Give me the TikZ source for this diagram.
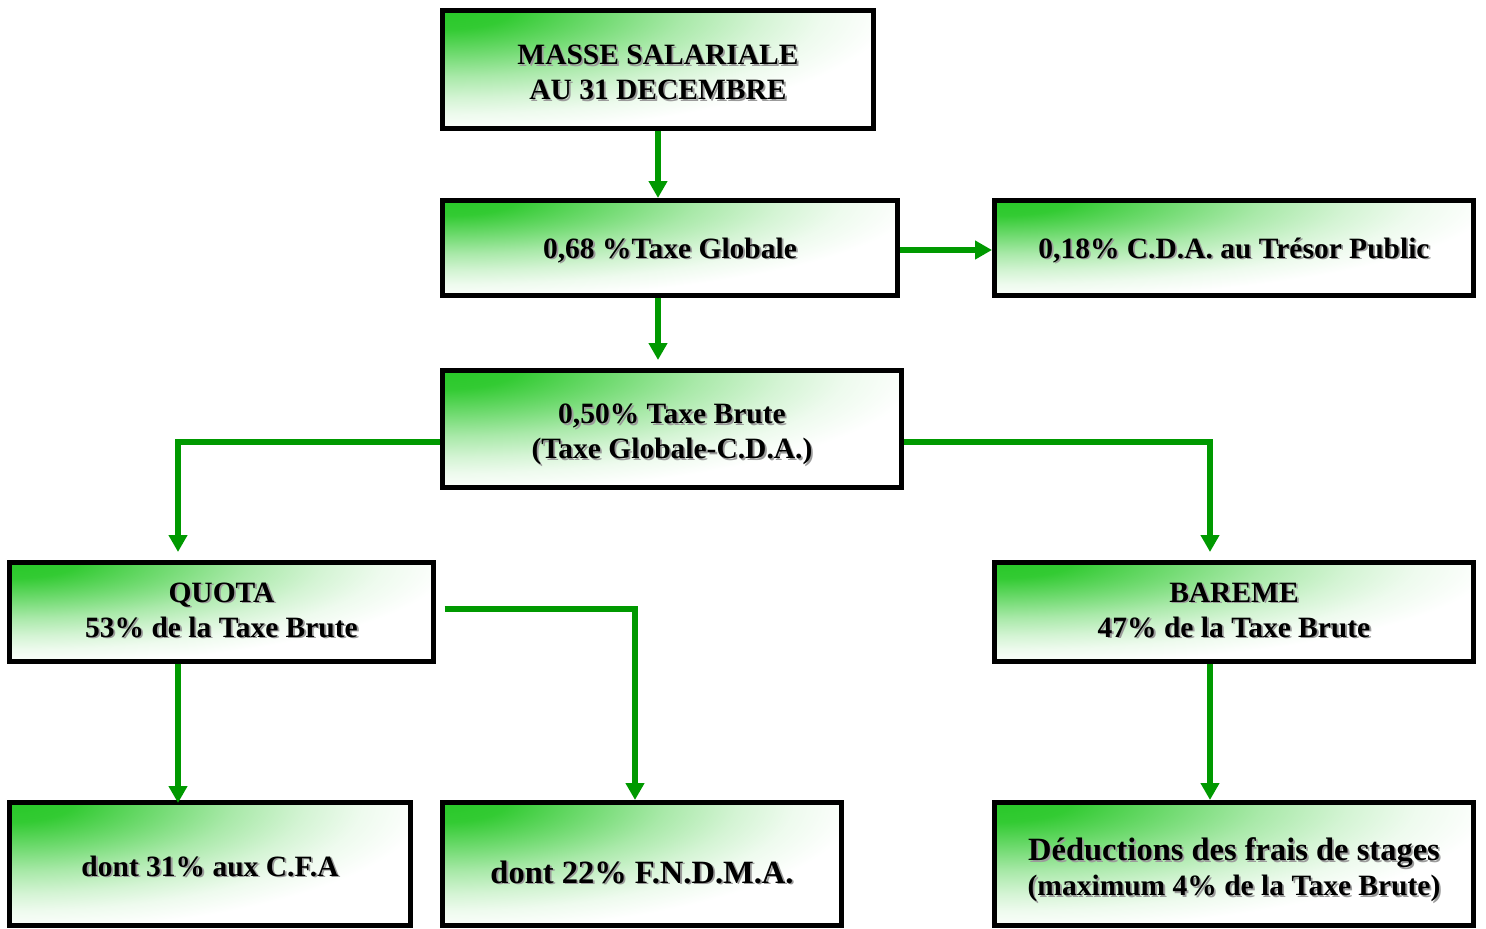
\documentclass[tikz,border=0pt]{standalone}
\usepackage{fontspec}
\setmainfont{Liberation Serif}
\usetikzlibrary{arrows.meta,calc}
\definecolor{gA}{RGB}{40,200,40}
\definecolor{arrgreen}{RGB}{0,153,0}
\definecolor{shgray}{RGB}{155,155,155}
\pgfdeclareradialshading{gcorner}{\pgfpointorigin}{color(0bp)=(gA); color(4bp)=(gA!95!white); color(9.5bp)=(gA!65!white); color(14bp)=(gA!40!white); color(18.5bp)=(gA!20!white); color(22bp)=(gA!8!white); color(26bp)=(white); color(50bp)=(white)}
\newcommand\shtxt[2][3pt]{\raisebox{-#1}[\height][\depth]{\makebox[0pt][l]{\raisebox{-1.8pt}{\hspace{1.8pt}\textcolor{shgray}{#2}}}#2}}
\newcommand\bigf{\fontsize{32.5}{35}\selectfont}
\tikzset{
  box/.style={draw=black, line width=5pt, inner sep=0pt, align=center,
    font=\bfseries\fontsize{29.5}{35}\selectfont,
    path picture={\shade[shading=gcorner] ($(path picture bounding box.north west)!-1!(path picture bounding box.south east)$) rectangle (path picture bounding box.south east);}},
  arr/.style={draw=arrgreen, line width=5.5pt, line join=miter, -{Triangle[width=18pt,length=17pt]}}
}
\begin{document}
\begin{tikzpicture}[x=1pt,y=-1pt]
\useasboundingbox (0,0) rectangle (1486,929);
\node[box, minimum width=431pt, minimum height=118pt] (masse) at (658,69.5) {\shtxt[3.5pt]{MASSE SALARIALE}\\\shtxt[3.5pt]{AU 31 DECEMBRE}};
\node[box, minimum width=455pt, minimum height=95pt] (globale) at (670,248) {\shtxt{0,68 \%Taxe Globale}};
\node[box, minimum width=479pt, minimum height=95pt] (cda) at (1234,248) {\shtxt{0,18\% C.D.A. au Trésor Public}};
\node[box, minimum width=459pt, minimum height=117pt] (brute) at (672,429) {\shtxt[6.5pt]{0,50\% Taxe Brute}\\\shtxt[6.5pt]{(Taxe Globale-C.D.A.)}};
\node[box, minimum width=424pt, minimum height=99pt] (quota) at (221.5,612) {\shtxt[-1pt]{QUOTA}\\\shtxt[-1pt]{53\% de la Taxe Brute}};
\node[box, minimum width=479pt, minimum height=99pt] (bareme) at (1234,612) {\shtxt[-1pt]{BAREME}\\\shtxt[-1pt]{47\% de la Taxe Brute}};
\node[box, minimum width=401pt, minimum height=123pt] (cfa) at (210,864) {\shtxt{dont 31\% aux C.F.A}};
\node[box, minimum width=399pt, minimum height=123pt] (fndma) at (642,864) {\bigf\shtxt[9pt]{dont 22\% F.N.D.M.A.}};
\node[box, minimum width=479pt, minimum height=123pt] (deduct) at (1234,864) {\bigf\shtxt[7pt]{Déductions des frais de stages}\\\shtxt[7pt]{(maximum 4\% de la Taxe Brute)}};

\draw[arr] (masse.south) -- (masse.south |- globale.north);
\draw[arr] (globale.south -| masse.south) -- ([yshift=8pt]brute.north -| masse.south);
\draw[arr] ([yshift=-2pt]globale.east) -- ([yshift=-2pt]cda.west);
\draw[arr] ([yshift=-13pt]brute.west) -| ([xshift=-43.5pt,yshift=8pt]quota.north);
\draw[arr] ([yshift=-13pt]brute.east) -| ([xshift=-24pt,yshift=8pt]bareme.north);
\draw[arr] ([xshift=-43.5pt]quota.south) -- ([xshift=-43.5pt,yshift=-3pt]quota.south |- cfa.north);
\draw[arr] ([xshift=8.5pt,yshift=3pt]quota.east) -| ([xshift=-7pt]fndma.north);
\draw[arr] ([xshift=-24pt]bareme.south) -- ([xshift=-24pt]bareme.south |- deduct.north);
\end{tikzpicture}
\end{document}
